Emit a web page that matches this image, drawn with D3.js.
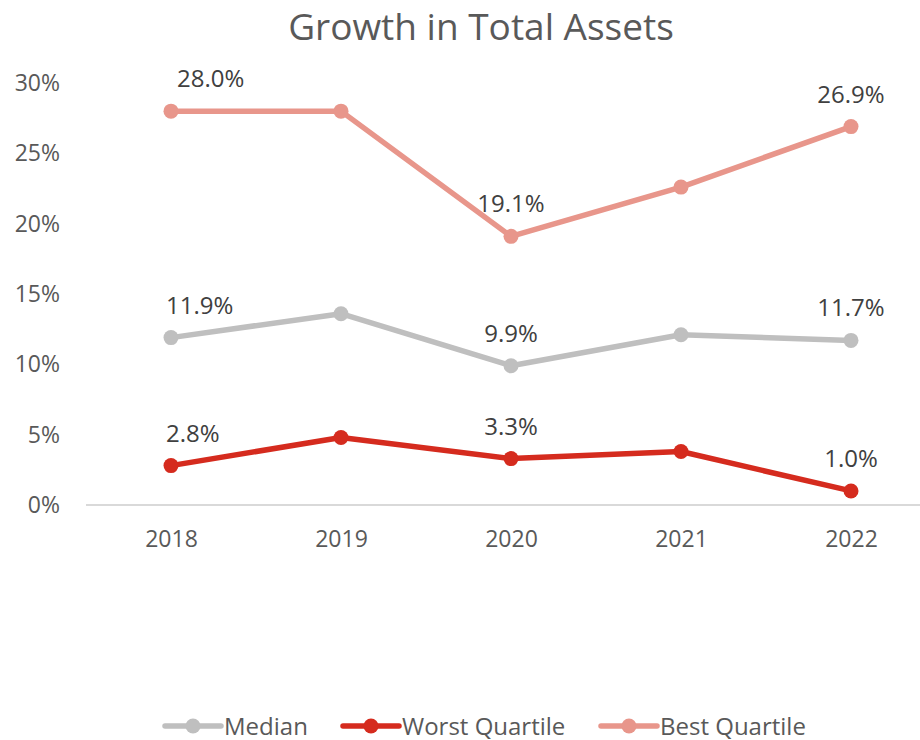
<!DOCTYPE html>
<html><head><meta charset="utf-8">
<script src="https://cdn.jsdelivr.net/npm/d3@7"></script>
<style>body{margin:0;background:#fff;} svg{display:block;font-family:"Open Sans",sans-serif;}</style>
</head><body><svg id="c" width="920" height="740"></svg>
<script>
const years = ["2018","2019","2020","2021","2022"];
const median = [11.9, 13.6, 9.9, 12.1, 11.7];
const worst = [2.8, 4.8, 3.3, 3.8, 1.0];
const best = [28.0, 28.0, 19.1, 22.6, 26.9];
const yTicks = [0, 5, 10, 15, 20, 25, 30];
const labelYears = ["2018","2020","2022"];
const seriesNames = ["Median","Worst Quartile","Best Quartile"];
const seriesColors = ["#BFBFBF","#D52B1E","#E8968B"];
const firstLabelDx = [-5, -5, 6];

const svg = d3.select("#c");
const x = d3.scalePoint().domain(years).range([171, 851]);
const y = d3.scaleLinear().domain([0, 30]).range([505, 83]);
const txt = "#595959";

svg.append("text").attr("x", 481).attr("y", 40).attr("text-anchor","middle")
  .attr("font-size", 37).attr("fill", txt).text("Growth in Total Assets");

// y tick labels
svg.append("g").selectAll("text").data(yTicks).join("text")
  .attr("x", 60).attr("y", d => y(d) + 8).attr("text-anchor","end")
  .attr("font-size", 23).attr("fill", txt).text(d => d + "%");

// x axis
const xa = svg.append("g").attr("transform","translate(0,505)")
  .call(d3.axisBottom(x).tickSize(0).tickPadding(26));
xa.select(".domain").remove();
xa.append("line").attr("x1", 86).attr("x2", 920).attr("stroke","#D9D9D9").attr("stroke-width",2);
xa.selectAll(".tick text").attr("font-size", 23).attr("fill", txt).attr("font-family","Open Sans, sans-serif");

const data = [median, worst, best];
const line = d3.line().x((d,i) => x(years[i])).y(d => y(d));
data.forEach((vals, k) => {
  const g = svg.append("g");
  g.append("path").attr("d", line(vals)).attr("fill","none")
    .attr("stroke", seriesColors[k]).attr("stroke-width", 5.5).attr("stroke-linejoin","round");
  g.selectAll("circle").data(vals).join("circle")
    .attr("cx", (d,i) => x(years[i])).attr("cy", d => y(d)).attr("r", 7.5)
    .attr("fill", seriesColors[k]);
  g.selectAll("text").data(vals.map((v,i)=>({v, yr: years[i]})).filter(d => labelYears.includes(d.yr)))
    .join("text")
    .attr("x", d => d.yr === years[0] ? x(d.yr) + firstLabelDx[k] : x(d.yr))
    .attr("y", d => y(d.v) - 24)
    .attr("text-anchor", d => d.yr === years[0] ? "start" : "middle")
    .attr("font-size", 24).attr("fill", "#404040")
    .text(d => d.v.toFixed(1) + "%");
});

// legend
const legX = [165, 343, 601];
const leg = svg.append("g");
seriesNames.forEach((n, k) => {
  const lg = leg.append("g").attr("transform", `translate(${legX[k]},726)`);
  lg.append("line").attr("x1",0).attr("x2",56).attr("stroke",seriesColors[k]).attr("stroke-width",5.5).attr("stroke-linecap","round");
  lg.append("circle").attr("cx",28).attr("r",7.5).attr("fill",seriesColors[k]);
  lg.append("text").attr("x",59).attr("y",8.5).attr("font-size",24).attr("fill",txt).text(n);
});
</script></body></html>
